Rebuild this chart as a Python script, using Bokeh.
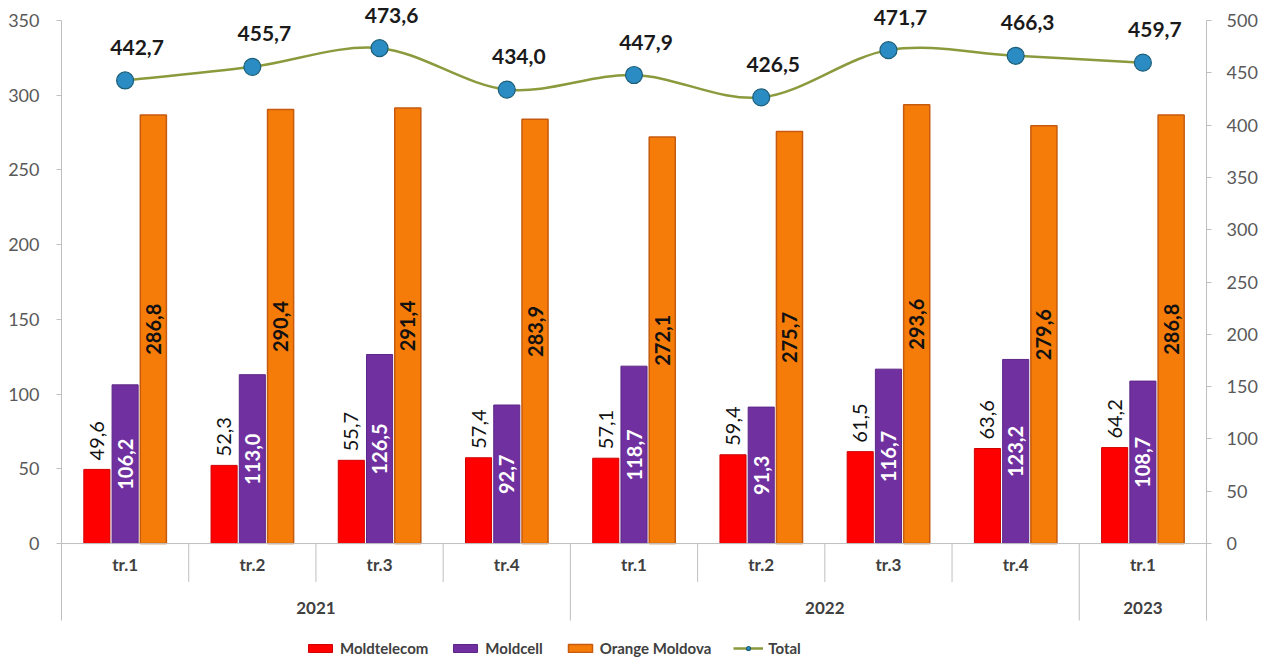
import math
from bokeh.plotting import figure
from bokeh.models import (Range1d, LinearAxis, FixedTicker, Span, Legend, LegendItem)
from bokeh.core.properties import value
from bokeh.embed import file_html
from bokeh.resources import INLINE

# ---------------- data ----------------
years = ["2021", "2021", "2021", "2021", "2022", "2022", "2022", "2022", "2023"]
quarters = ["tr.1", "tr.2", "tr.3", "tr.4", "tr.1", "tr.2", "tr.3", "tr.4", "tr.1"]
moldtelecom = [49.6, 52.3, 55.7, 57.4, 57.1, 59.4, 61.5, 63.6, 64.2]
moldcell = [106.2, 113.0, 126.5, 92.7, 118.7, 91.3, 116.7, 123.2, 108.7]
orange = [286.8, 290.4, 291.4, 283.9, 272.1, 275.7, 293.6, 279.6, 286.8]
total = [442.7, 455.7, 473.6, 434.0, 447.9, 426.5, 471.7, 466.3, 459.7]
left_ticks = [0, 50, 100, 150, 200, 250, 300, 350]
right_ticks = [0, 50, 100, 150, 200, 250, 300, 350, 400, 450, 500]

FONT = value("Lato")
n = len(quarters)
xc = [i + 0.5 for i in range(n)]


def fmt(v):
    return f"{v:.1f}".replace(".", ",")


LEFT_MAX = 350
RIGHT_MAX = 500
TOP = 363.4           # frame top (room for the labels above the line)
AXIS_BOTTOM = -51.5   # where the category band ends
BOTTOM = -77.6        # frame bottom (room for the legend)
RATIO = RIGHT_MAX / LEFT_MAX

p = figure(width=1269, height=659, output_backend="svg", toolbar_location=None,
           x_range=Range1d(0, n), y_range=Range1d(BOTTOM, TOP),
           x_axis_location=None, min_border_left=61, min_border_right=63,
           min_border_top=0, min_border_bottom=0, outline_line_color=None,
           background_fill_color="white", border_fill_color="white")
p.xgrid.visible = False
p.ygrid.visible = False
p.extra_y_ranges = {"right": Range1d(BOTTOM * RATIO, TOP * RATIO)}

AXIS_COL = "#BFBFBF"
TICK_COL = "#595959"

ya = p.yaxis[0]
ya.ticker = FixedTicker(ticks=left_ticks)
ya.bounds = (AXIS_BOTTOM, LEFT_MAX)
ya.axis_line_color = AXIS_COL
ya.major_tick_line_color = AXIS_COL
ya.major_tick_out = 5
ya.major_tick_in = 0
ya.minor_tick_line_color = None
ya.major_label_text_font = "Lato"
ya.major_label_text_font_size = "18px"
ya.major_label_text_color = TICK_COL
ya.major_label_standoff = 17

ra = LinearAxis(y_range_name="right", ticker=FixedTicker(ticks=right_ticks))
ra.bounds = (AXIS_BOTTOM * RATIO, RIGHT_MAX)
ra.axis_line_color = AXIS_COL
ra.major_tick_line_color = AXIS_COL
ra.major_tick_out = 5
ra.major_tick_in = 0
ra.minor_tick_line_color = None
ra.major_label_text_font = "Lato"
ra.major_label_text_font_size = "18px"
ra.major_label_text_color = TICK_COL
ra.major_label_standoff = 15
p.add_layout(ra, "right")

p.add_layout(Span(location=0, dimension="width", line_color=AXIS_COL, line_width=1))

# ---------------- category axis (drawn in the lower band) ----------------
bx, by0, by1 = [], [], []
for k in range(1, n):
    bx.append(k)
    by0.append(0)
    long_sep = years[k] != years[k - 1]
    by1.append(AXIS_BOTTOM if long_sep else AXIS_BOTTOM * 0.5)
p.segment(x0=bx, y0=by0, x1=bx, y1=by1, line_color=AXIS_COL, line_width=1)

p.text(x=xc, y=[0] * n, text=quarters, text_font=FONT, text_font_size="17px",
       text_font_style="bold", text_color="#404040", text_align="center",
       text_baseline="middle", y_offset=21)

yr_names, yr_pos = [], []
for yv in dict.fromkeys(years):
    idx = [xc[i] for i in range(n) if years[i] == yv]
    yr_names.append(yv)
    yr_pos.append(sum(idx) / len(idx))
p.text(x=yr_pos, y=[0] * len(yr_pos), text=yr_names, text_font=FONT,
       text_font_size="17px", text_font_style="bold", text_color="#404040",
       text_align="center", text_baseline="middle", y_offset=64)

# ---------------- bars ----------------
W = 0.205
OFF = 0.222
x_red = [x - OFF for x in xc]
x_pur = list(xc)
x_org = [x + OFF for x in xc]

r_red = p.vbar(x=x_red, top=moldtelecom, bottom=0, width=W, fill_color="#FF0000",
               line_color="#D00000", line_width=1)
r_pur = p.vbar(x=x_pur, top=moldcell, bottom=0, width=W, fill_color="#7030A0",
               line_color="#5E2787", line_width=1)
r_org = p.vbar(x=x_org, top=orange, bottom=0, width=W, fill_color="#F67C0A",
               line_color="#C65A0E", line_width=1.5)

half_pi = math.pi / 2
p.text(x=x_red, y=moldtelecom, text=[fmt(v) for v in moldtelecom], angle=half_pi,
       text_font=FONT, text_font_size="20px", text_color="#111111",
       text_align="left", text_baseline="middle", y_offset=-9)
p.text(x=x_pur, y=[v / 2 for v in moldcell], text=[fmt(v) for v in moldcell],
       angle=half_pi, text_font=FONT, text_font_size="20px", text_font_style="bold",
       text_color="white", text_align="center", text_baseline="middle")
p.text(x=x_org, y=[v / 2 for v in orange], text=[fmt(v) for v in orange],
       angle=half_pi, text_font=FONT, text_font_size="20px", text_font_style="bold",
       text_color="#111111", text_align="center", text_baseline="middle")

# ---------------- total line (smoothed via bezier segments) ----------------
pts = list(zip(xc, total))
x0s, y0s, x1s, y1s, cx0s, cy0s, cx1s, cy1s = [], [], [], [], [], [], [], []
for i in range(n - 1):
    p0 = pts[i - 1] if i > 0 else pts[i]
    p1 = pts[i]
    p2 = pts[i + 1]
    p3 = pts[i + 2] if i + 2 < n else pts[i + 1]
    x0s.append(p1[0]); y0s.append(p1[1])
    x1s.append(p2[0]); y1s.append(p2[1])
    cx0s.append(p1[0] + (p2[0] - p0[0]) / 6); cy0s.append(p1[1] + (p2[1] - p0[1]) / 6)
    cx1s.append(p2[0] - (p3[0] - p1[0]) / 6); cy1s.append(p2[1] - (p3[1] - p1[1]) / 6)
r_line = p.bezier(x0=x0s, y0=y0s, x1=x1s, y1=y1s, cx0=cx0s, cy0=cy0s, cx1=cx1s,
                  cy1=cy1s, line_color="#8A9A3C", line_width=2.5, y_range_name="right")
r_mark = p.scatter(x=xc, y=total, size=17, marker="circle", fill_color="#2A8CC2",
                   line_color="#1E5F78", line_width=1.2, y_range_name="right")
p.text(x=xc, y=total, text=[fmt(v) for v in total], text_font=FONT,
       text_font_size="21px", text_font_style="bold", text_color="#1a1a1a",
       text_align="center", text_baseline="middle", x_offset=12, y_offset=-33,
       y_range_name="right")

# ---------------- legend ----------------
legend = Legend(items=[
    LegendItem(label="Moldtelecom", renderers=[r_red]),
    LegendItem(label="Moldcell", renderers=[r_pur]),
    LegendItem(label="Orange Moldova", renderers=[r_org]),
    LegendItem(label="Total", renderers=[r_line, r_mark]),
], orientation="horizontal", location=(244, 2), padding=0, margin=0, spacing=22,
    label_standoff=5, glyph_width=30, glyph_height=10, label_height=18,
    label_text_font="Lato", label_text_font_style="bold", label_text_font_size="15px",
    label_text_color="#404040", border_line_color=None, background_fill_alpha=0)
p.add_layout(legend, "center")

open("out.html", "w").write(file_html(p, INLINE))
